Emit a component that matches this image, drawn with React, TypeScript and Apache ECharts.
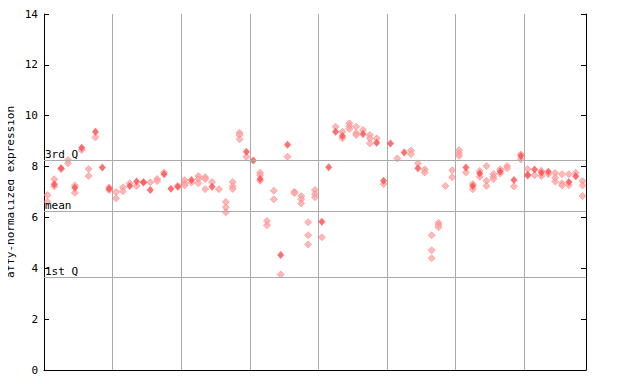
import React, { useEffect, useRef } from "react";
import * as echarts from "echarts";

const sampleCount = 79;

// filled (solid) diamonds per sample
const filledValues: number[][] = [
  [], [7.30], [7.93], [], [7.17], [8.74], [], [9.37], [7.96], [7.13],
  [], [], [7.24], [7.41], [7.37], [7.08], [], [7.70], [7.13], [7.21],
  [], [7.47], [], [], [7.21], [], [], [], [], [8.58],
  [8.24], [7.51], [], [], [4.52], [8.86], [], [], [], [],
  [5.83], [7.97], [9.37], [9.20], [], [], [9.28], [], [8.94], [7.44],
  [8.91], [], [8.55], [], [7.93], [], [], [], [], [],
  [], [7.96], [7.24], [7.73], [], [], [7.81], [], [7.47], [8.42],
  [7.68], [7.88], [7.76], [7.80], [], [], [7.39], [7.62], [],
];

// checkered (light) diamonds per sample
const checkValues: number[][] = [
  [6.88, 6.62], [7.50, 7.22], [7.90], [8.26, 8.13], [7.26, 6.97], [8.65], [7.90, 7.63], [9.15], [], [7.18, 7.08],
  [7.00, 6.75], [7.18, 7.03], [7.34], [7.24], [7.39], [7.38], [7.51, 7.43], [7.77], [], [7.24],
  [7.47, 7.34, 7.26], [7.37], [7.63, 7.51, 7.34], [7.58, 7.51, 7.11], [7.39], [7.11], [6.61, 6.40, 6.20], [7.39, 7.22, 7.12], [9.33, 9.24, 9.07], [8.39],
  [], [7.76, 7.66, 7.44], [5.86, 5.69], [7.05, 6.71], [3.76], [8.39], [7.01, 6.95], [6.84, 6.71, 6.55], [5.81, 5.30, 4.94], [7.08, 6.92, 6.79],
  [5.22], [], [9.57], [9.37, 9.11], [9.70, 9.59, 9.48], [9.57, 9.31, 9.24], [9.44], [9.24, 9.11, 8.91], [9.11], [7.31],
  [], [8.32], [], [8.63, 8.49], [8.13], [7.89, 7.77], [5.30, 4.71, 4.39], [5.79, 5.70, 5.61], [7.24], [7.86, 7.58],
  [8.65, 8.52, 8.42], [7.77], [7.31, 7.11], [7.83, 7.60], [8.02, 7.44, 7.24], [7.71, 7.60, 7.51], [7.89, 7.73], [8.02, 7.93], [7.22], [8.48, 8.28],
  [7.90, 7.64], [7.66], [7.83, 7.63], [7.70], [7.75, 7.56, 7.41], [7.70, 7.34, 7.26], [7.70, 7.27], [7.76], [7.43, 7.26, 6.84],
];

const refLines = [
  { name: "3rd Q", value: 8.24 },
  { name: "mean", value: 6.26 },
  { name: "1st Q", value: 3.66 },
];

const yTicks = { min: 0, max: 14, interval: 2 };
const axisTitle = "affy-normalized expression";

const FONT = "DejaVu Sans Mono";

function toPoints(values: number[][]): number[][] {
  const pts: number[][] = [];
  values.forEach((vs, i) => vs.forEach((v) => pts.push([i + 0.5, v])));
  return pts;
}

export default function App() {
  const ref = useRef<HTMLDivElement>(null);
  useEffect(() => {
    if (!ref.current) return;
    const chart = echarts.init(ref.current, undefined, { renderer: "svg" });
    chart.setOption({
      animation: false,
      grid: { left: 44, right: 54, top: 14, bottom: 14, outerBoundsMode: "none", containLabel: false },
      xAxis: {
        type: "value",
        min: 0,
        max: sampleCount,
        interval: 10,
        axisLine: { show: true, onZero: false, lineStyle: { color: "#000", width: 1 } },
        axisTick: { show: false },
        axisLabel: { show: false },
        splitLine: { show: true, lineStyle: { color: "#aaaaaa", width: 1 } },
      },
      yAxis: [
        {
          type: "value",
          min: yTicks.min,
          max: yTicks.max,
          interval: yTicks.interval,
          name: axisTitle,
          nameLocation: "middle",
          nameRotate: 90,
          nameGap: 28,
          nameMoveOverlap: false,
          nameTextStyle: { fontFamily: FONT, fontSize: 11, color: "#000" },
          axisLine: { show: true, lineStyle: { color: "#000", width: 1 } },
          axisTick: { show: true, inside: true, length: 5, lineStyle: { color: "#000" } },
          axisLabel: { fontFamily: FONT, fontSize: 11, color: "#000", margin: 6 },
          splitLine: { show: false },
        },
        {
          type: "value",
          position: "right",
          min: yTicks.min,
          max: yTicks.max,
          interval: yTicks.interval,
          axisLine: { show: true, lineStyle: { color: "#000", width: 1 } },
          axisTick: { show: true, inside: true, length: 5, lineStyle: { color: "#000" } },
          axisLabel: { show: false },
          splitLine: { show: false },
        },
      ],
      series: [
        {
          type: "scatter",
          data: toPoints(checkValues),
          symbol: "diamond",
          symbolSize: 7,
          itemStyle: { color: "#ffa8a8", borderColor: "#ff7070", borderWidth: 0.6 },
          markLine: {
            silent: true,
            symbol: "none",
            lineStyle: { color: "#aaaaaa", width: 1, type: "solid" },
            label: {
              show: true,
              position: "insideStartTop",
              distance: [1, 0],
              formatter: "{b}",
              fontFamily: FONT,
              fontSize: 11,
              color: "#000",
            },
            data: refLines.map((r) => ({ name: r.name, yAxis: r.value })),
          },
        },
        {
          type: "scatter",
          data: toPoints(filledValues),
          symbol: "diamond",
          symbolSize: [7, 8],
          itemStyle: { color: "#ff4d4d" },
        },
      ],
    });
    return () => chart.dispose();
  }, []);
  return <div ref={ref} style={{ width: 640, height: 384, marginLeft: -8, marginTop: -8 }} />;
}
